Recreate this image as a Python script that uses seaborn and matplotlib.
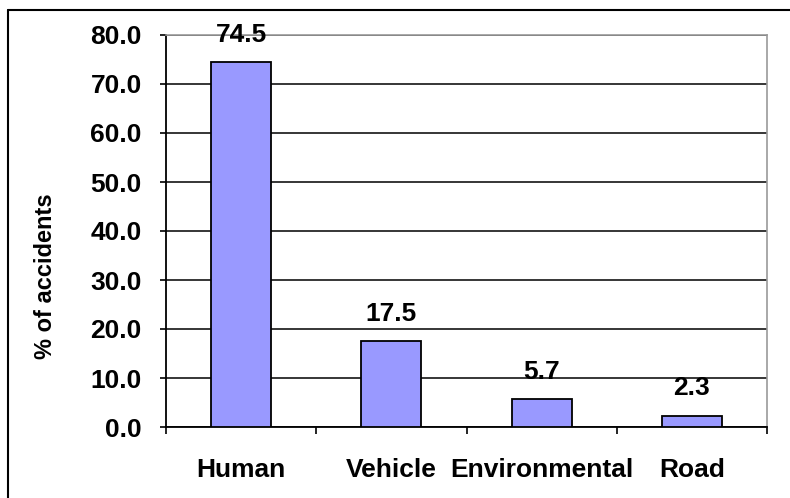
import matplotlib
matplotlib.use("Agg")
import matplotlib.pyplot as plt
import seaborn as sns
import pandas as pd
from matplotlib.lines import Line2D
from matplotlib.ticker import FixedLocator, FormatStrFormatter

# data
categories = ["Human", "Vehicle", "Environmental", "Road"]
pct_accidents = [74.5, 17.5, 5.7, 2.3]

df = pd.DataFrame({"cause": categories, "pct": pct_accidents})

sns.set_style("white")
plt.rcParams["font.family"] = ["Liberation Sans", "DejaVu Sans"]
plt.rcParams["font.weight"] = "bold"
plt.rcParams["text.color"] = "black"
plt.rcParams["xtick.color"] = "black"
plt.rcParams["ytick.color"] = "black"
plt.rcParams["axes.labelcolor"] = "black"

fig = plt.figure(figsize=(7.9, 4.98), dpi=100)
ax = fig.add_axes([166 / 790, 1 - 427 / 498, (767 - 166) / 790, (427 - 35) / 498])

sns.barplot(data=df, x="cause", y="pct", color="#9999FF", saturation=1,
            width=0.4, edgecolor="black", linewidth=1.3, ax=ax, zorder=3)

ax.set_xlim(-0.5, 3.5)
ax.set_ylim(0, 80)
ax.set_yticks(range(0, 81, 10))
ax.yaxis.set_major_formatter(FormatStrFormatter("%.1f"))
ax.grid(axis="y", color="black", linewidth=1.1, zorder=0)
ax.set_axisbelow(True)

# category boundary ticks
ax.xaxis.set_minor_locator(FixedLocator([-0.5, 0.5, 1.5, 2.5, 3.5]))
ax.tick_params(axis="x", which="major", length=0, pad=22, labelsize=19)
ax.tick_params(axis="x", which="minor", length=5, width=1.2, direction="out", color="black", bottom=True)
ax.tick_params(axis="y", length=4.5, width=1.2, direction="out", color="black", left=True, pad=13, labelsize=19)
for lab in ax.get_xticklabels() + ax.get_yticklabels():
    lab.set_fontweight("bold")

ax.set_xlabel("")
ax.set_ylabel("")
fig.text(46 / 790, 1 - 276 / 498, "% of accidents", rotation=90, ha="center", va="center",
         fontsize=17, fontweight="bold")

for sp in ["left", "bottom"]:
    ax.spines[sp].set_color("black")
    ax.spines[sp].set_linewidth(1.3)
for sp in ["top", "right"]:
    ax.spines[sp].set_color("#999999")
    ax.spines[sp].set_linewidth(1.2)

for i, v in enumerate(pct_accidents):
    ax.annotate(f"{v:.1f}", (i, v), xytext=(0, 11), textcoords="offset points",
                ha="center", va="bottom", fontsize=19, fontweight="bold")

# outer chart border (left and top visible)
fig.add_artist(Line2D([8 / 790, 8 / 790], [0, 1 - 10 / 498], color="black", linewidth=1.5, transform=fig.transFigure))
fig.add_artist(Line2D([8 / 790, 1], [1 - 10 / 498, 1 - 10 / 498], color="black", linewidth=1.5, transform=fig.transFigure))

fig.savefig("out.png", dpi=100)
